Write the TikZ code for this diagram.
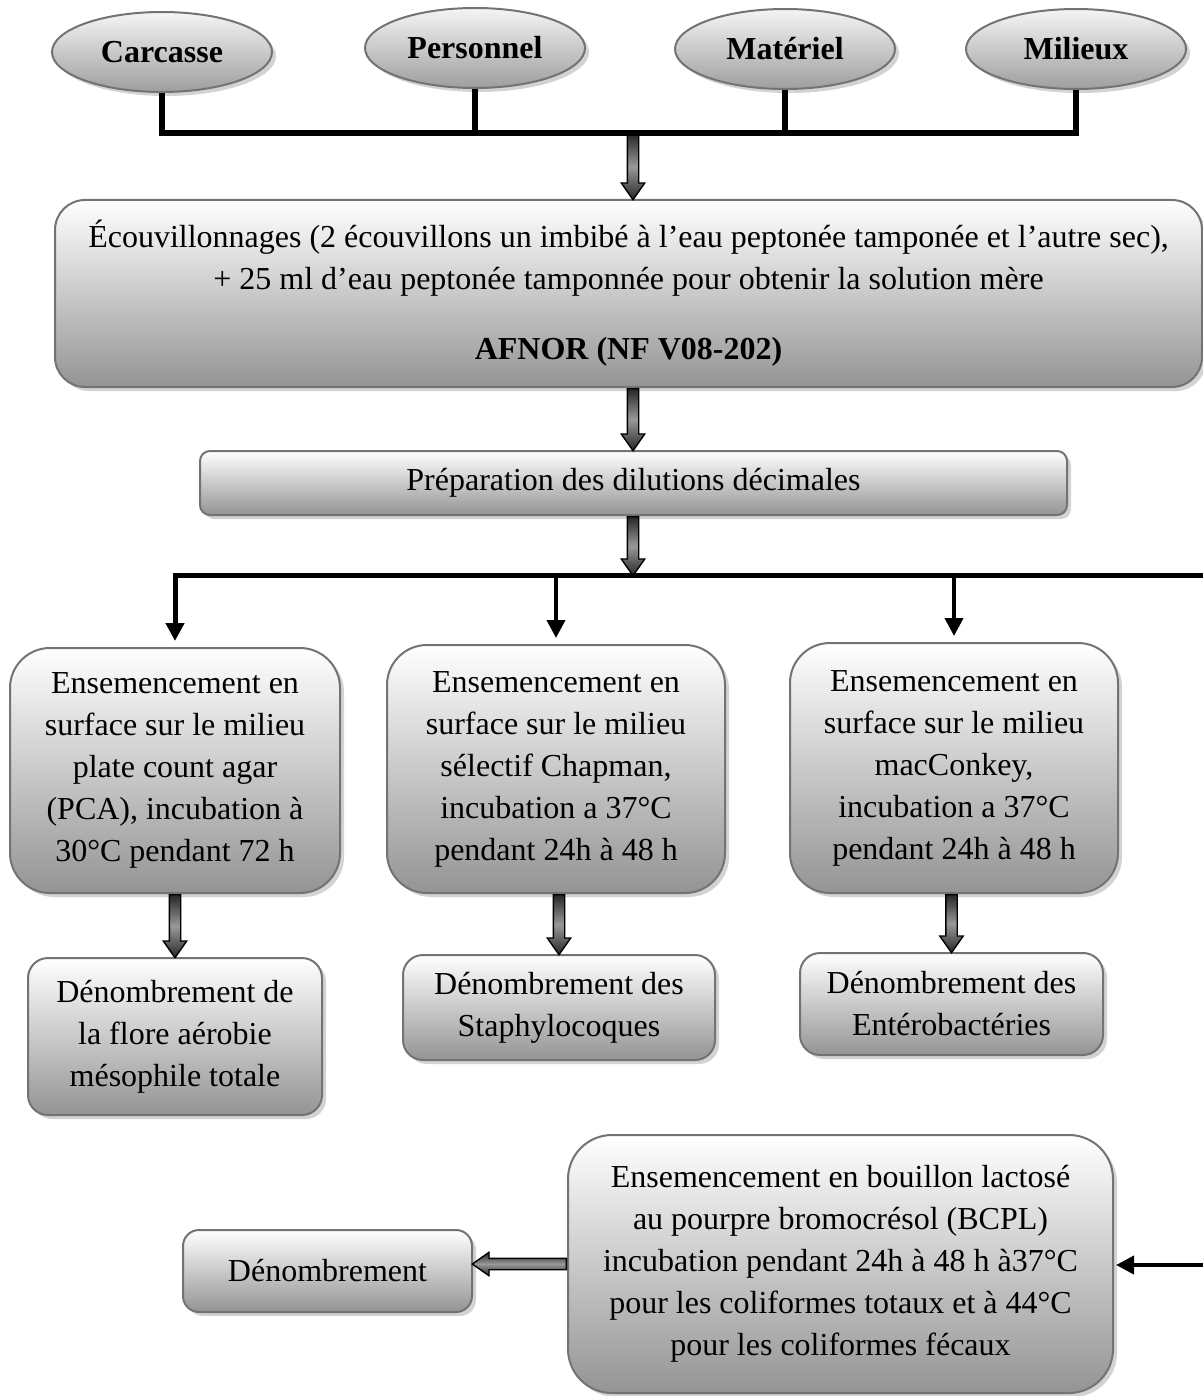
\documentclass[tikz,border=0pt]{standalone}
\usepackage{fontspec}
\setmainfont{Liberation Serif}
\usetikzlibrary{shapes.geometric,shapes.arrows,shadows,arrows.meta,calc}

% gray block arrow from #1 to #2
\newcommand{\bigarrow}[2]{%
  \path let \p1=(#1), \p2=(#2), \n1={veclen(\x2-\x1,\y2-\y1)}, \n2={atan2(\y2-\y1,\x2-\x1)} in
    node[blockarr, minimum height=\n1, rotate=\n2] at (\p1) {};}

\begin{document}
\begin{tikzpicture}[x=0.5pt,y=-0.5pt,
    source/.style={ellipse, draw=black!55, line width=1pt, top color=black!4, bottom color=black!38,
      minimum width=110pt, minimum height=40pt, font=\fontsize{16}{19}\selectfont\bfseries,
      drop shadow={shadow xshift=2pt,shadow yshift=-2pt,opacity=0.35}},
    stepbox/.style={draw=black!55, line width=1pt, top color=white, bottom color=black!42,
      align=center, inner sep=0pt, font=\fontsize{16}{21}\selectfont,
      drop shadow={shadow xshift=2pt,shadow yshift=-2pt,opacity=0.35}},
    blockarr/.style={single arrow, draw=black, line width=0.7pt, inner xsep=0pt, inner ysep=2.5pt,
      single arrow head extend=3pt, single arrow tip angle=70, anchor=tail,
      top color=black!85, bottom color=black!85, middle color=black!40},
    bar/.style={line width=3pt},
    thinarr/.style={line width=2pt, -{Triangle[length=9pt,width=9pt]}, shorten >=3pt}]
\useasboundingbox (0,0) rectangle (1203,1396);

% sources
\node[source] (carcasse) at (162,52) {Carcasse};
\node[source] (personnel) at (475,48) {Personnel};
\node[source] (materiel) at (785,49) {Matériel};
\node[source] (milieux) at (1076,49) {Milieux};
\coordinate (jt) at (633,133);

% solution mere
\node[stepbox, rounded corners=15pt, minimum width=573.5pt, minimum height=93.5pt] (ecouv) at (628.5,293.5)
  {Écouvillonnages (2 écouvillons un imbibé à l’eau peptonée tamponée et l’autre sec),\\
   + 25 ml d’eau peptonée tamponnée pour obtenir la solution mère\\[14pt]
   \textbf{AFNOR (NF V08-202)}};
\bigarrow{jt}{ecouv.north -| jt}
\draw[bar] (carcasse.south) -- (carcasse.south |- jt) -- (milieux.south |- jt) -- (milieux.south);
\draw[bar] (personnel.south) -- (personnel.south |- jt);
\draw[bar] (materiel.south) -- (materiel.south |- jt);

\node[stepbox, rounded corners=5pt, minimum width=433.5pt, minimum height=32pt] (prep) at (633.5,483)
  {Préparation des dilutions décimales};
\bigarrow{ecouv.south -| jt}{prep.north -| jt}

% ensemencements
\coordinate (hub) at (633,575);
\coordinate (hubR) at (1204,575);
\bigarrow{prep.south -| hub}{hub}
\node[stepbox, rounded corners=20pt, minimum width=165pt, minimum height=122.5pt] (ensA) at (175,770.5)
  {Ensemencement en\\ surface sur le milieu\\ plate count agar\\ (PCA), incubation à\\ 30°C pendant 72 h};
\node[stepbox, rounded corners=20pt, minimum width=169pt, minimum height=124pt] (ensB) at (556,769)
  {Ensemencement en\\ surface sur le milieu\\ sélectif Chapman,\\ incubation a 37°C\\ pendant 24h à 48 h};
\node[stepbox, rounded corners=20pt, minimum width=164pt, minimum height=125pt] (ensC) at (954,768)
  {Ensemencement en\\ surface sur le milieu\\ macConkey,\\ incubation a 37°C\\ pendant 24h à 48 h};
\draw[thinarr, line width=2.5pt] (hubR) -- (ensA.north |- hub) -- (ensA.north);
\draw[thinarr] (ensB.north |- hub) -- (ensB.north);
\draw[thinarr] (ensC.north |- hub) -- (ensC.north);

% denombrements
\node[stepbox, rounded corners=10pt, minimum width=147pt, minimum height=78.5pt] (denA) at (175,1036.5)
  {Dénombrement de\\ la flore aérobie\\ mésophile totale};
\node[stepbox, rounded corners=10pt, minimum width=156pt, minimum height=52.5pt] (denB) at (559,1007.5)
  {Dénombrement des\\ Staphylocoques};
\node[stepbox, rounded corners=10pt, minimum width=151.5pt, minimum height=51pt] (denC) at (951.5,1004)
  {Dénombrement des\\ Entérobactéries};
\bigarrow{ensA.south}{denA.north}
\bigarrow{denB.north |- ensB.south}{denB.north}
\bigarrow{ensC.south -| denC.north}{denC.north}

% coliformes
\node[stepbox, rounded corners=22pt, minimum width=272.5pt, minimum height=129pt] (bcpl) at (840.5,1264)
  {Ensemencement en bouillon lactosé\\ au pourpre bromocrésol (BCPL)\\ incubation pendant 24h à 48 h à37°C\\
   pour les coliformes totaux et à 44°C\\ pour les coliformes fécaux};
\node[stepbox, rounded corners=8pt, minimum width=144.5pt, minimum height=41pt] (den) at (327.5,1271)
  {Dénombrement};
\bigarrow{bcpl.west}{den.east |- bcpl.west}
\coordinate (inR) at (1204,1265);
\draw[thinarr, shorten >=1pt] (inR) -- (bcpl.east |- inR);
\end{tikzpicture}
\end{document}
